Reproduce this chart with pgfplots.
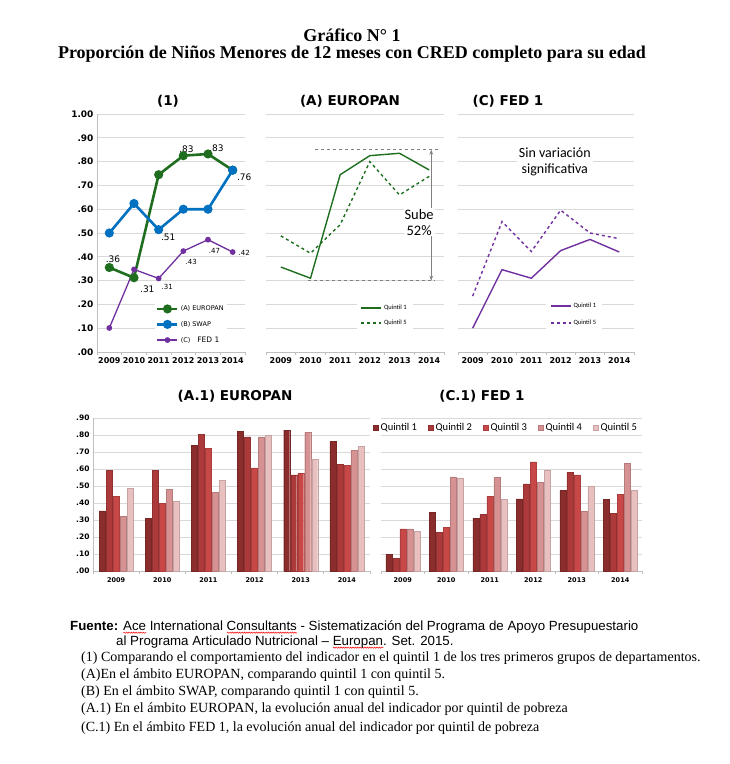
\documentclass[border=0pt]{standalone}
\usepackage{fontspec}
\setmainfont{Liberation Serif}
\newfontfamily\dv{DejaVu Sans}
\newfontfamily\carl{Carlito}
\newfontfamily\ars{Liberation Sans}
\usepackage{pgfplots}
\pgfplotsset{compat=1.18}
\usetikzlibrary{arrows.meta,decorations.pathmorphing}

\definecolor{eugreen}{RGB}{31,110,31}
\definecolor{swapblue}{RGB}{0,112,192}
\definecolor{fedpurple}{RGB}{112,48,160}
\definecolor{gridc}{RGB}{217,217,217}
\definecolor{axisc}{RGB}{191,191,191}
\definecolor{qa}{RGB}{140,45,45}
\definecolor{qb}{RGB}{172,58,58}
\definecolor{qc}{RGB}{200,72,72}
\definecolor{qd}{RGB}{214,146,146}
\definecolor{qe}{RGB}{232,192,192}

% subrayado ondulado rojo (corrector)
\newsavebox\wbox
\newcommand\rwave[1]{\sbox\wbox{#1}\rlap{\raisebox{-3pt}{\tikz\draw[red, line width=0.5pt, decorate, decoration={snake, amplitude=0.6pt, segment length=2.4pt}] (0,0) -- (\wd\wbox,0);}}\usebox\wbox}

\pgfplotsset{
  base/.style={
    scale only axis, anchor=south west,
    xmin=2008.5, xmax=2014.5,
    axis lines*=left,
    axis line style={draw=axisc, line width=0.8pt},
    xtick={2009,2010,2011,2012,2013,2014},
    xticklabels={2009,2010,2011,2012,2013,2014},
    minor xtick={2008.5,2009.5,2010.5,2011.5,2012.5,2013.5,2014.5},
    major tick length=0pt, minor tick length=3pt,
    tick align=outside, tick style={draw=axisc, line width=0.8pt},
    ymajorgrids, major grid style={draw=gridc, line width=0.9pt},
    clip=false,
  },
  lines/.style={base,
    ymin=0, ymax=1, height=238pt,
    ytick={0,0.1,0.2,0.3,0.4,0.5,0.6,0.7,0.8,0.9,1},
    xticklabel style={font=\dv\bfseries\fontsize{8}{9}\selectfont, yshift=-2pt},
  },
  bars/.style={base,
    ymin=0, ymax=0.9, height=153pt,
    ytick={0,0.1,0.2,0.3,0.4,0.5,0.6,0.7,0.8,0.9},
    ybar=1pt, bar width=6pt,
    xticklabel style={font=\dv\bfseries\fontsize{6.5}{7}\selectfont, yshift=-3pt},
  },
}

\begin{document}
\begin{tikzpicture}
\path[use as bounding box] (0,0) rectangle (730pt,-764pt);

% titulos
\node[font=\bfseries\fontsize{18}{20}\selectfont] at (352pt,-35pt) {Gráfico N° 1};
\node[font=\bfseries\fontsize{18}{20}\selectfont] at (352pt,-54pt) {Proporción de Niños Menores de 12 meses con CRED completo para su edad};

\begin{scope}[every node/.style={font=\dv\bfseries\fontsize{13.5}{15}\selectfont}]
\node at (168pt,-101pt) {(1)};
\node at (350pt,-101pt) {(A) EUROPAN};
\node at (508pt,-101pt) {(C) FED 1};
\node at (235pt,-396pt) {(A.1) EUROPAN};
\node at (482pt,-396pt) {(C.1) FED 1};
\end{scope}

% (1)
\begin{axis}[lines, at={(97pt,-352pt)}, width=148pt,
  yticklabels={.00,.10,.20,.30,.40,.50,.60,.70,.80,.90,1.00},
  yticklabel style={font=\dv\bfseries\fontsize{9}{10}\selectfont},
  legend style={at={(axis cs:2010.85,0.115)}, anchor=west, draw=none, fill=white,
    font=\dv\fontsize{6.5}{7}\selectfont, row sep=5pt, inner sep=1pt},
  legend cell align=left,
  legend image code/.code={\draw[mark repeat=2,mark phase=2,#1] plot coordinates {(0pt,0pt)(10pt,0pt)(20pt,0pt)};},
]
\addplot[eugreen, line width=2.6pt, mark=*, mark size=3.2pt] coordinates {(2009,0.355)(2010,0.312)(2011,0.745)(2012,0.825)(2013,0.832)(2014,0.764)};
\addlegendentry{(A) EUROPAN}
\addplot[swapblue, line width=2.6pt, mark=*, mark size=3.2pt] coordinates {(2009,0.500)(2010,0.624)(2011,0.514)(2012,0.600)(2013,0.600)(2014,0.764)};
\addlegendentry{(B) SWAP}
\addplot[fedpurple, line width=1.3pt, mark=*, mark size=2.2pt] coordinates {(2009,0.101)(2010,0.347)(2011,0.309)(2012,0.424)(2013,0.472)(2014,0.420)};
\addlegendentry{(C)\hspace{7pt}{\fontsize{7.5}{8}\selectfont FED 1}}
\begin{scope}[every node/.style={font=\dv\fontsize{9}{10}\selectfont, inner sep=0pt}]
\node at (axis cs:2009.15,0.39) {.36};
\node at (axis cs:2010.54,0.265) {.31};
\node at (axis cs:2012.13,0.85) {.83};
\node at (axis cs:2013.34,0.857) {.83};
\node at (axis cs:2014.47,0.735) {.76};
\node at (axis cs:2011.39,0.483) {.51};
\end{scope}
\begin{scope}[every node/.style={font=\dv\fontsize{7}{8}\selectfont, inner sep=0pt}]
\node at (axis cs:2011.35,0.273) {.31};
\node at (axis cs:2012.32,0.378) {.43};
\node at (axis cs:2013.26,0.424) {.47};
\node at (axis cs:2014.47,0.416) {.42};
\end{scope}
\end{axis}

% (A) EUROPAN
\begin{axis}[lines, at={(266pt,-352pt)}, width=178pt,
  yticklabels={}, y axis line style={draw=none},
  legend style={at={(axis cs:2011.55,0.153)}, anchor=west, draw=none, fill=white,
    font=\carl\fontsize{6.5}{7}\selectfont, row sep=5pt, inner xsep=4pt},
  legend cell align=left,
  legend image code/.code={\draw[#1] (0pt,0pt) -- (20pt,0pt);},
]
\addplot[eugreen, line width=1.4pt] coordinates {(2009,0.357)(2010,0.310)(2011,0.745)(2012,0.825)(2013,0.835)(2014,0.765)};
\addlegendentry{Quintil 1}
\addplot[eugreen, line width=1.4pt, dashed] coordinates {(2009,0.488)(2010,0.415)(2011,0.535)(2012,0.800)(2013,0.660)(2014,0.738)};
\addlegendentry{Quintil 5}
\addplot[gray, dashed, line width=0.8pt, forget plot] coordinates {(2010.15,0.85)(2014.35,0.85)};
\addplot[gray, dashed, line width=0.8pt, forget plot] coordinates {(2009.9,0.30)(2014.2,0.30)};
\draw[gray, line width=0.8pt, {Stealth[length=5pt]}-{Stealth[length=5pt]}] (axis cs:2014.07,0.30) -- (axis cs:2014.07,0.85);
\node[fill=white, align=center, font=\carl\fontsize{14.5}{16}\selectfont, inner sep=1pt] at (axis cs:2013.66,0.546) {Sube\\52\%};
\end{axis}

% (C) FED 1
\begin{axis}[lines, at={(458pt,-352pt)}, width=176pt,
  yticklabels={}, y axis line style={draw=none},
  legend style={at={(axis cs:2011.5,0.158)}, anchor=west, draw=none, fill=white,
    font=\carl\fontsize{6.5}{7}\selectfont, row sep=7pt, inner xsep=4pt},
  legend cell align=left,
  legend image code/.code={\draw[#1] (0pt,0pt) -- (20pt,0pt);},
]
\addplot[fedpurple, line width=1.4pt] coordinates {(2009,0.100)(2010,0.346)(2011,0.310)(2012,0.426)(2013,0.473)(2014,0.420)};
\addlegendentry{Quintil 1}
\addplot[fedpurple, line width=1.4pt, dashed] coordinates {(2009,0.235)(2010,0.548)(2011,0.422)(2012,0.596)(2013,0.500)(2014,0.476)};
\addlegendentry{Quintil 5}
\node[fill=white, align=center, font=\carl\fontsize{14}{16}\selectfont, inner sep=2pt] at (axis cs:2011.8,0.80) {Sin variación\\significativa};
\end{axis}

% (A.1) EUROPAN
\begin{axis}[bars, at={(93pt,-571pt)}, width=277pt,
  yticklabels={.00,.10,.20,.30,.40,.50,.60,.70,.80,.90},
  yticklabel style={font=\dv\bfseries\fontsize{7.5}{8}\selectfont},
]
\addplot[fill=qa, draw=qa!85!black, line width=0.4pt] coordinates {(2009,0.354)(2010,0.309)(2011,0.740)(2012,0.820)(2013,0.828)(2014,0.761)};
\addplot[fill=qb, draw=qb!85!black, line width=0.4pt] coordinates {(2009,0.593)(2010,0.593)(2011,0.802)(2012,0.789)(2013,0.566)(2014,0.626)};
\addplot[fill=qc, draw=qc!85!black, line width=0.4pt] coordinates {(2009,0.438)(2010,0.397)(2011,0.720)(2012,0.607)(2013,0.573)(2014,0.620)};
\addplot[fill=qd, draw=qd!85!black, line width=0.4pt] coordinates {(2009,0.323)(2010,0.479)(2011,0.464)(2012,0.789)(2013,0.816)(2014,0.710)};
\addplot[fill=qe, draw=qe!85!black, line width=0.4pt] coordinates {(2009,0.485)(2010,0.411)(2011,0.534)(2012,0.798)(2013,0.656)(2014,0.734)};
\end{axis}

% (C.1) FED 1
\begin{axis}[bars, at={(381pt,-571pt)}, width=261pt,
  yticklabels={}, y axis line style={draw=none},
  legend columns=5,
  legend style={at={(rel axis cs:0.479,0.935)}, anchor=center, draw=none, fill=white,
    font=\carl\fontsize{10.5}{12}\selectfont, inner sep=1pt,
    /tikz/every even column/.append style={column sep=9pt}},
  legend image code/.code={\fill[#1] (0pt,-2.6pt) rectangle (5.2pt,2.6pt);},
]
\addplot[fill=qa, draw=qa!85!black, line width=0.4pt] coordinates {(2009,0.100)(2010,0.346)(2011,0.309)(2012,0.425)(2013,0.474)(2014,0.420)};
\addlegendentry{Quintil 1}
\addplot[fill=qb, draw=qb!85!black, line width=0.4pt] coordinates {(2009,0.076)(2010,0.227)(2011,0.333)(2012,0.513)(2013,0.581)(2014,0.340)};
\addlegendentry{Quintil 2}
\addplot[fill=qc, draw=qc!85!black, line width=0.4pt] coordinates {(2009,0.248)(2010,0.256)(2011,0.440)(2012,0.642)(2013,0.566)(2014,0.452)};
\addlegendentry{Quintil 3}
\addplot[fill=qd, draw=qd!85!black, line width=0.4pt] coordinates {(2009,0.248)(2010,0.554)(2011,0.550)(2012,0.520)(2013,0.352)(2014,0.634)};
\addlegendentry{Quintil 4}
\addplot[fill=qe, draw=qe!85!black, line width=0.4pt] coordinates {(2009,0.233)(2010,0.548)(2011,0.420)(2012,0.595)(2013,0.500)(2014,0.476)};
\addlegendentry{Quintil 5}
\end{axis}

% fuente y notas
\node[anchor=base west, inner sep=0pt, font=\ars\fontsize{13.3}{15}\selectfont] at (70pt,-630.5pt)
  {\textbf{Fuente:} \rwave{Ace}\ International\ \rwave{Consultants}\ - Sistematización del Programa de Apoyo Presupuestario};
\node[anchor=base west, inner sep=0pt, font=\ars\fontsize{13.3}{15}\selectfont] at (116pt,-645.5pt)
  {al Programa Articulado Nutricional – \rwave{Europan}. Set. 2015.};
\begin{scope}[every node/.style={anchor=base west, inner sep=0pt, font=\fontsize{14}{16}\selectfont}]
\node at (81pt,-661.5pt) {(1) Comparando el comportamiento del indicador en el quintil 1 de los tres primeros grupos de departamentos.};
\node at (81pt,-678.5pt) {(A)En el ámbito EUROPAN, comparando quintil 1 con quintil 5.};
\node at (81pt,-695.5pt) {(B) En el ámbito SWAP, comparando quintil 1 con quintil 5.};
\node at (81pt,-712.5pt) {(A.1) En el ámbito EUROPAN, la evolución anual del indicador por quintil de pobreza};
\node at (81pt,-731.5pt) {(C.1) En el ámbito FED 1, la evolución anual del indicador por quintil de pobreza};
\end{scope}
\end{tikzpicture}
\end{document}
